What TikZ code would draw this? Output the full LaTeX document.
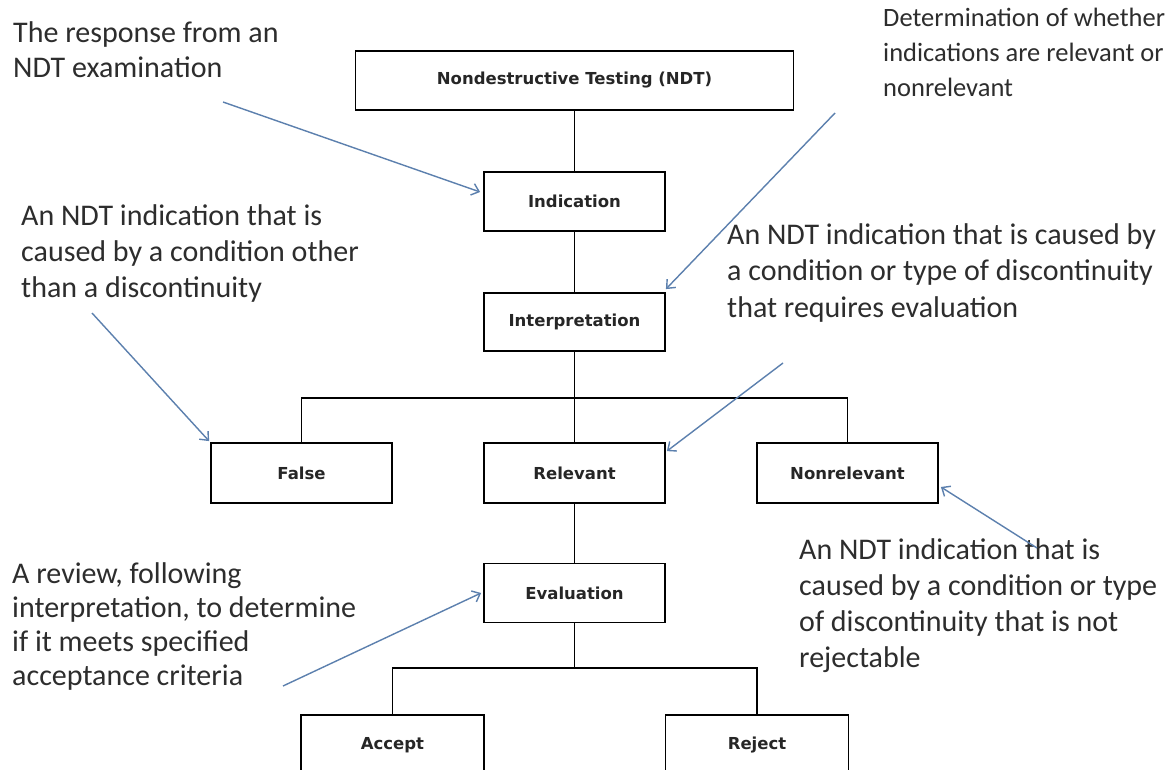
\documentclass[tikz,border=0pt]{standalone}
\usepackage{fontspec}
\setmainfont{Carlito}
\newfontfamily\boxfont{DejaVu Sans}
\usetikzlibrary{arrows.meta}
\definecolor{arrowblue}{RGB}{92,128,174}
\definecolor{txtgray}{RGB}{45,45,45}
\begin{document}
\begin{tikzpicture}[x=1pt,y=-1pt,
  box/.style={draw=black, line width=1.8pt, rectangle, inner sep=0pt,
    font=\boxfont\bfseries\fontsize{16.5}{20}\selectfont, text=black!85},
  note/.style={anchor=base west, align=left, inner sep=0pt,
    font=\fontsize{30}{35}\selectfont, text=txtgray},
  conn/.style={draw=black, line width=1.8pt},
  ann/.style={draw=arrowblue, line width=1.4pt, -{Straight Barb[length=7pt,width=12pt]}}]
\path[use as bounding box, clip] (0,0) rectangle (1169,770);
\fill[white] (0,0) rectangle (1169,770);

% boxes
\node[box, minimum width=438pt, minimum height=59pt] (ndt) at (574.5,80.5) {Nondestructive Testing (NDT)};
\node[box, minimum width=181pt, minimum height=59pt] (ind) at (574.5,201.5) {Indication};
\node[box, minimum width=181pt, minimum height=58pt] (interp) at (574.5,322) {Interpretation};
\node[box, minimum width=181pt, minimum height=60pt] (false) at (301.5,473) {False};
\node[box, minimum width=181pt, minimum height=60pt] (rel) at (574.5,473) {Relevant};
\node[box, minimum width=181pt, minimum height=60pt] (nonrel) at (847.5,473) {Nonrelevant};
\node[box, minimum width=181pt, minimum height=59pt] (eval) at (574.5,593) {Evaluation};
\node[box, minimum width=183pt, minimum height=60pt] (acc) at (392.5,745) {Accept};
\node[box, minimum width=183pt, minimum height=60pt] (rej) at (757,745) {Reject};

% tree connectors
\coordinate (b1) at (574.5,398);
\coordinate (b2) at (574.5,668);
\draw[conn] (ndt.south) -- (ind.north);
\draw[conn] (ind.south) -- (interp.north);
\draw[conn] (interp.south) -- (rel.north);
\draw[conn] (false.north) |- (b1) -| (nonrel.north);
\draw[conn] (eval.south) -- (b2);
\draw[conn] (acc.north) |- (b2) -| (rej.north);
\draw[conn] (rel.south) -- (eval.north);

% notes (anchored at the baseline of their last line)
\node[note] (n1) at (13,78) {The response from an\\NDT examination};
\node[note, font=\fontsize{26.5}{35}\selectfont] (n2) at (883,97) {Determination of whether\\indications are relevant or\\nonrelevant};
\node[note, font=\fontsize{30}{36}\selectfont] (n3) at (21,297) {An NDT indication that is\\caused by a condition\ other\\than a discontinuity};
\node[note, font=\fontsize{30}{36.5}\selectfont] (n4) at (727,317) {An NDT indication that is caused by\\a condition or type of discontinuity\\that requires evaluation};
\node[note, font=\fontsize{30}{34}\selectfont] (n5) at (12,685) {A review, following\\interpretation, to determine\\if it meets specified\\acceptance criteria};
\node[note, font=\fontsize{30}{36}\selectfont] (n6) at (799,667) {An NDT indication that is\\caused by a condition\ or type\\of discontinuity that is not\\rejectable};

% annotation arrows
\coordinate (t1) at (223,102);
\coordinate (t2) at (835,113);
\coordinate (t3) at (92,313);
\coordinate (t4) at (783,363);
\coordinate (t5) at (1037,548);
\coordinate (t6) at (283,686);
\draw[ann] (t1) -- ([xshift=-3pt,yshift=9.5pt]ind.west);
\draw[ann] (t2) -- ([xshift=0pt,yshift=3pt]interp.north east);
\draw[ann] (t3) -- ([xshift=-1pt,yshift=1pt]false.north west);
\draw[ann] (t4) -- ([xshift=1pt,yshift=-9pt]rel.north east);
\draw[ann] (t5) -- ([xshift=2pt,yshift=-14pt]nonrel.east);
\draw[ann] (t6) -- ([xshift=-2pt]eval.west);
\end{tikzpicture}
\end{document}
